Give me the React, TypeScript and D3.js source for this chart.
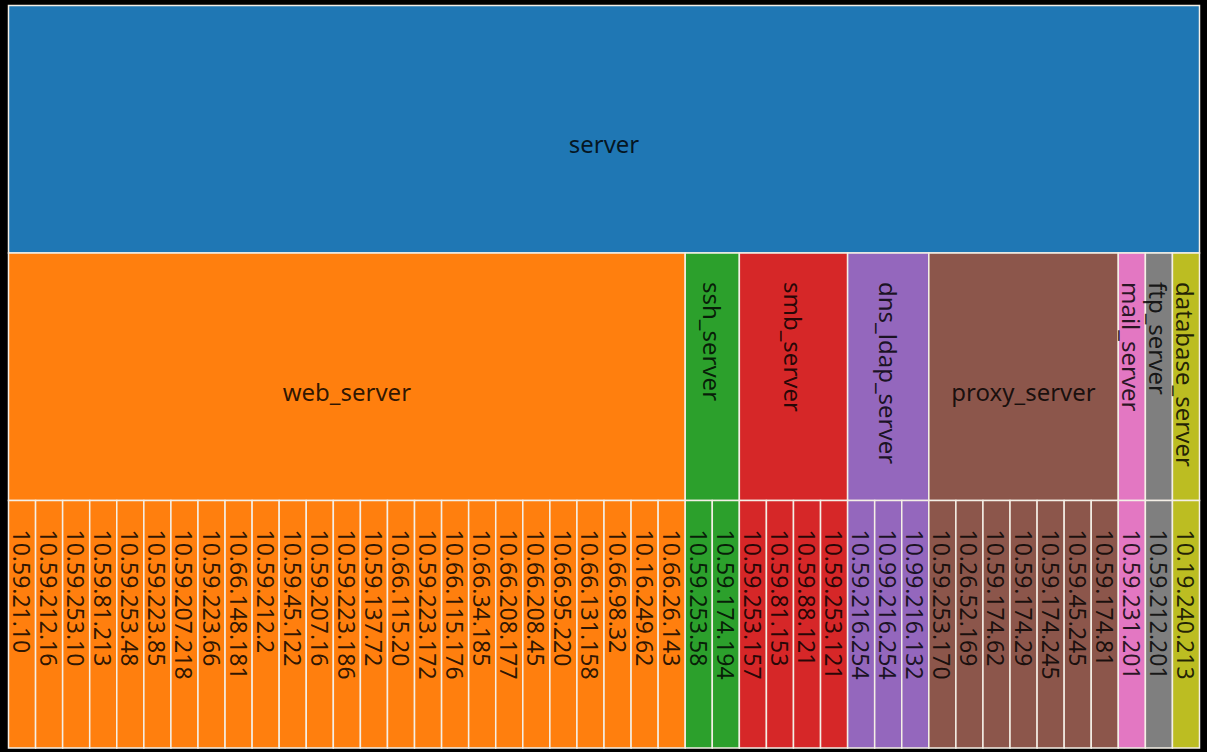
import { useEffect, useRef } from 'react';
import * as d3 from 'd3';

// ─── Data ───────────────────────────────────────────────────

const rootName = 'server';

const groupNames = [
  'web_server',
  'ssh_server',
  'smb_server',
  'dns_ldap_server',
  'proxy_server',
  'mail_server',
  'ftp_server',
  'database_server',
];

const webHosts = [
  '10.59.21.10', '10.59.212.16', '10.59.253.10', '10.59.81.213', '10.59.253.48',
  '10.59.223.85', '10.59.207.218', '10.59.223.66', '10.66.148.181', '10.59.212.2',
  '10.59.45.122', '10.59.207.16', '10.59.223.186', '10.59.137.72', '10.66.115.20',
  '10.59.223.172', '10.66.115.176', '10.66.34.185', '10.66.208.177', '10.66.208.45',
  '10.66.95.220', '10.66.131.158', '10.66.98.32', '10.16.249.62', '10.66.26.143',
];
const sshHosts = ['10.59.253.58', '10.59.174.194'];
const smbHosts = ['10.59.253.157', '10.59.81.153', '10.59.88.121', '10.59.253.121'];
const dnsHosts = ['10.59.216.254', '10.99.216.254', '10.99.216.132'];
const proxyHosts = [
  '10.59.253.170', '10.26.52.169', '10.59.174.62', '10.59.174.29',
  '10.59.174.245', '10.59.45.245', '10.59.174.81',
];
const mailHosts = ['10.59.231.201'];
const ftpHosts = ['10.59.212.201'];
const databaseHosts = ['10.19.240.213'];

const hostLists = [webHosts, sshHosts, smbHosts, dnsHosts, proxyHosts, mailHosts, ftpHosts, databaseHosts];

// ─── Chart ──────────────────────────────────────────────────

interface Node {
  name: string;
  children?: Node[];
}

const W = 1207;
const H = 752;
const margin = { top: 5.5, right: 7.5, bottom: 4, left: 8.5 };

export default function App() {
  const svgRef = useRef<SVGSVGElement>(null);

  useEffect(() => {
    if (!svgRef.current) return;
    const svg = d3.select(svgRef.current);
    svg.selectAll('*').remove();

    const innerW = W - margin.left - margin.right;
    const innerH = H - margin.top - margin.bottom;

    const tree: Node = {
      name: rootName,
      children: groupNames.map((g, i) => ({
        name: g,
        children: hostLists[i].map((h) => ({ name: h })),
      })),
    };

    const root = d3.hierarchy<Node>(tree).count();
    d3.partition<Node>().size([innerW, innerH])(root);

    const color = d3.scaleOrdinal<string, string>()
      .domain([rootName, ...groupNames])
      .range(d3.schemeCategory10);

    const colorOf = (d: d3.HierarchyRectangularNode<Node>) => {
      if (d.depth === 0) return color(rootName);
      const top = d.depth === 1 ? d : d.parent!;
      return color(top.data.name);
    };

    const g = svg.append('g')
      .attr('transform', `translate(${margin.left},${margin.top})`);

    const nodes = (root as d3.HierarchyRectangularNode<Node>).descendants();

    const cell = g.selectAll('g.cell')
      .data(nodes)
      .join('g')
      .attr('class', 'cell');

    cell.append('rect')
      .attr('x', (d) => d.x0)
      .attr('y', (d) => d.y0)
      .attr('width', (d) => d.x1 - d.x0)
      .attr('height', (d) => d.y1 - d.y0)
      .attr('fill', (d) => colorOf(d))
      .attr('stroke', '#f4efe6')
      .attr('stroke-width', 1.5);

    // label: horizontal if it fits, otherwise rotated down the cell
    cell.append('text')
      .attr('font-family', '"Noto Sans", sans-serif')
      .attr('font-size', (d) => (d.depth === 2 ? 23 : 24))
      .attr('fill', '#000')
      .attr('fill-opacity', 0.82)
      .each(function (d) {
        const w = d.x1 - d.x0;
        const t = d3.select(this);
        const fits = d.data.name.length * 12.5 + 10 < w;
        if (fits) {
          t.attr('x', (d.x0 + d.x1) / 2)
            .attr('y', (d.y0 + d.y1) / 2 + 24)
            .attr('text-anchor', 'middle');
        } else {
          const cx = (d.x0 + d.x1) / 2;
          const ty = d.y0 + 29;
          t.attr('transform', `translate(${cx},${ty}) rotate(90)`)
            .attr('text-anchor', 'start')
            .attr('dominant-baseline', 'central');
        }
        t.text(d.data.name);
      });
  }, []);

  return (
    <div style={{ position: 'fixed', inset: 0, background: '#000' }}>
      <svg ref={svgRef} width={W} height={H} style={{ display: 'block' }} />
    </div>
  );
}
